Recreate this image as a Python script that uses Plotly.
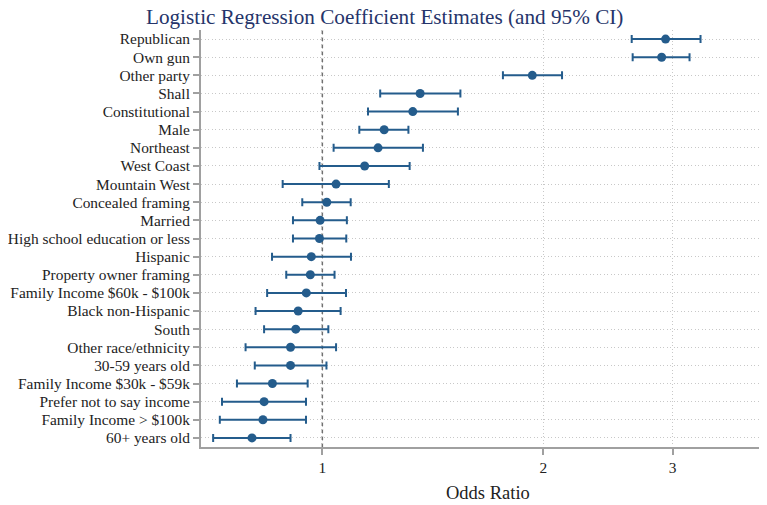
import plotly.graph_objects as go

categories = [
    "Republican", "Own gun", "Other party", "Shall", "Constitutional", "Male",
    "Northeast", "West Coast", "Mountain West", "Concealed framing", "Married",
    "High school education or less", "Hispanic", "Property owner framing",
    "Family Income $60k - $100k", "Black non-Hispanic", "South",
    "Other race/ethnicity", "30-59 years old", "Family Income $30k - $59k",
    "Prefer not to say income", "Family Income > $100k", "60+ years old",
]
odds_ratio = [2.935, 2.899, 1.932, 1.359, 1.328, 1.214, 1.191, 1.142, 1.044, 1.014,
              0.993, 0.991, 0.966, 0.963, 0.951, 0.927, 0.920, 0.905, 0.905, 0.855,
              0.833, 0.830, 0.802]
ci_low = [2.639, 2.647, 1.762, 1.199, 1.154, 1.123, 1.036, 0.991, 0.883, 0.939,
          0.912, 0.912, 0.854, 0.893, 0.841, 0.811, 0.833, 0.786, 0.809, 0.765,
          0.730, 0.725, 0.710]
ci_high = [3.275, 3.164, 2.121, 1.542, 1.530, 1.310, 1.371, 1.315, 1.232, 1.093,
           1.080, 1.078, 1.094, 1.039, 1.077, 1.059, 1.019, 1.044, 1.013, 0.955,
           0.950, 0.950, 0.905]
x_ticks = [1, 2, 3, 4]
x_tick_labels = ["1", "2", "3", "4"]

color = "#245c8c"
font = "Liberation Serif, Times New Roman, serif"

# the page body has an 8px margin, so the figure is sized to fill the rest of the window
W, H = 759, 497

err_plus = [h - e for h, e in zip(ci_high, odds_ratio)]
err_minus = [e - l for e, l in zip(odds_ratio, ci_low)]

fig = go.Figure()
fig.add_trace(go.Scatter(
    x=odds_ratio, y=categories, mode="markers",
    marker=dict(color=color, size=9),
    error_x=dict(type="data", symmetric=False, array=err_plus, arrayminus=err_minus,
                 color=color, thickness=2, width=4),
    showlegend=False, cliponaxis=False,
))

fig.add_shape(type="line", xref="x", yref="paper", x0=1, x1=1, y0=0, y1=1,
              line=dict(color="#707070", width=1.5, dash="4px,3px"), layer="below")

fig.add_annotation(text="Odds Ratio", xref="paper", yref="paper",
                   x=0.508, y=-0.110, xanchor="center", yanchor="middle",
                   showarrow=False, font=dict(family=font, size=18.5, color="#222222"))

fig.update_layout(
    template="none",
    width=W, height=H,
    margin=dict(l=192.5, r=1, t=22, b=58, pad=0, autoexpand=False),
    paper_bgcolor="white", plot_bgcolor="white",
    font=dict(family=font, color="#222222", size=15.4),
    title=dict(text="Logistic Regression Coefficient Estimates (and 95% CI)",
               x=376.7 / W, xanchor="center", xref="container",
               y=1 - 9 / H, yref="container", yanchor="middle", automargin=False,
               font=dict(family=font, size=21.2, color="#25346a")),
    xaxis=dict(
        type="log", range=[-0.1653, 0.6044], automargin=False,
        tickvals=x_ticks, ticktext=x_tick_labels, ticklabeloverflow="allow",
        showgrid=True, gridcolor="#c8c8c8", griddash="1px,2.5px", gridwidth=1,
        showline=True, linecolor="#a0a0a0", linewidth=2,
        ticks="outside", ticklen=6, tickcolor="#a0a0a0", tickwidth=1.5,
        zeroline=False, tickfont=dict(size=15.4),
    ),
    yaxis=dict(
        type="category", categoryorder="array", categoryarray=categories,
        range=[22.5, -0.5], automargin=False,
        showgrid=True, gridcolor="#c8c8c8", griddash="1px,2.5px", gridwidth=1,
        showline=True, linecolor="#a0a0a0", linewidth=2,
        ticks="outside", ticklen=6, tickcolor="#a0a0a0", tickwidth=1.5,
        zeroline=False, tickfont=dict(size=15.4),
    ),
)

fig.write_html(
    "out.html",
    post_script="document.documentElement.style.overflow='hidden';"
                "document.body.style.overflow='hidden';",
)
